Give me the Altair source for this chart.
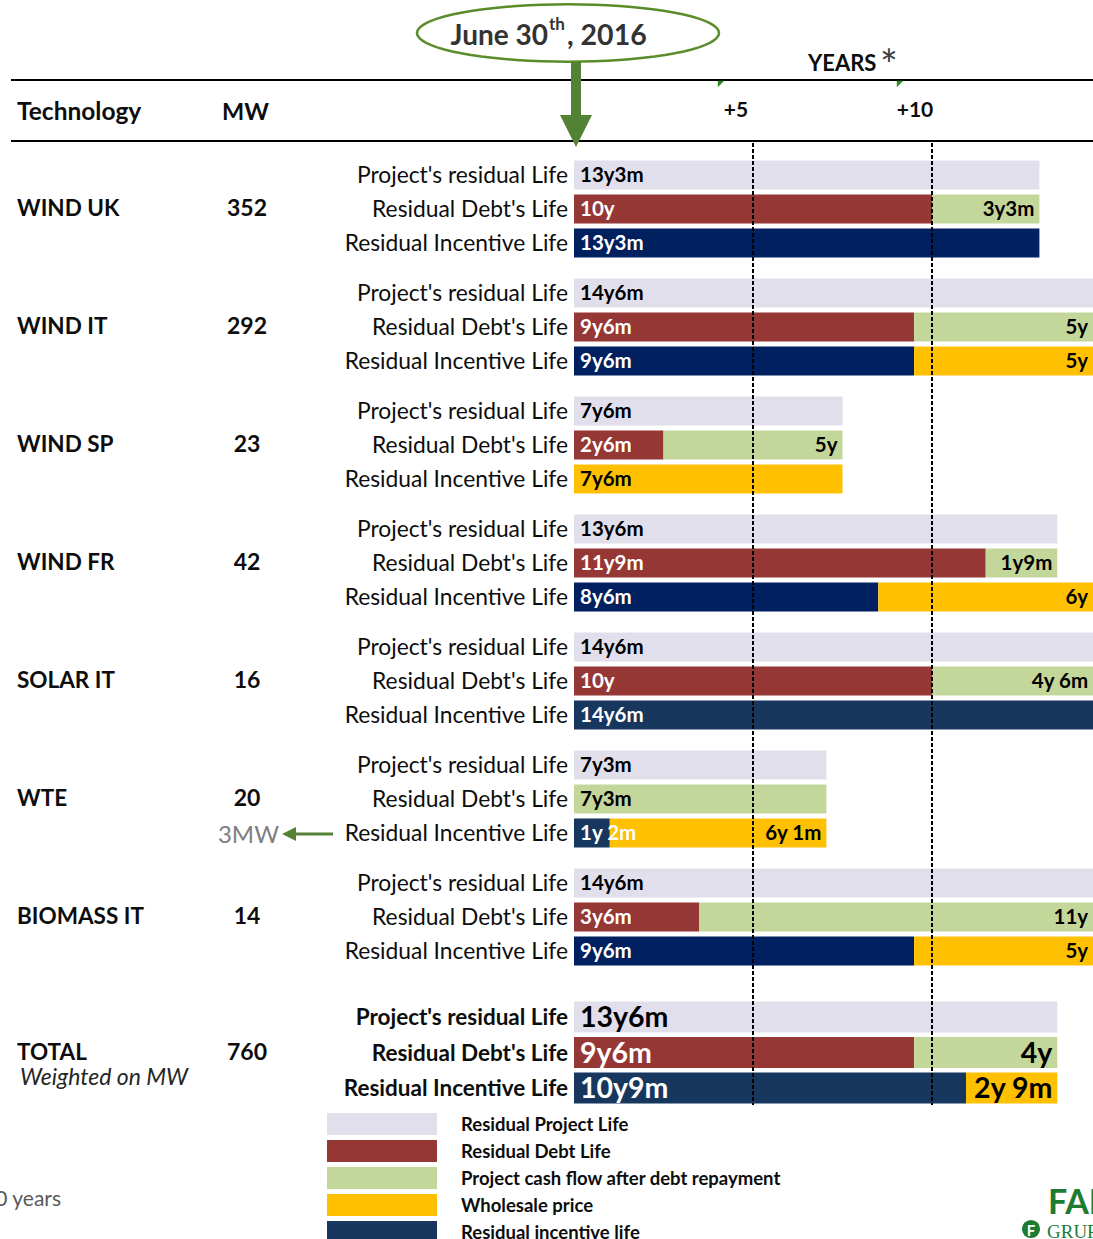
import math
import altair as alt
import pandas as pd

# ------------------------------------------------------------------ data
groups = ["WIND UK", "WIND IT", "WIND SP", "WIND FR", "SOLAR IT", "WTE", "BIOMASS IT", "TOTAL"]
mw = ["352", "292", "23", "42", "16", "20", "14", "760"]
row_names = ["Project's residual Life", "Residual Debt's Life", "Residual Incentive Life"]

# bar lengths in years, as drawn
project_years = [13.0, 14.5, 7.5, 13.5, 14.5, 7.05, 14.5, 13.5]
project_labels = ["13y3m", "14y6m", "7y6m", "13y6m", "14y6m", "7y3m", "14y6m", "13y6m"]

debt_years = [10.0, 9.5, 2.5, 11.5, 10.0, 0.0, 3.5, 9.5]
debt_labels = ["10y", "9y6m", "2y6m", "11y9m", "10y", "", "3y6m", "9y6m"]
cashflow_years = [3.0, 5.0, 5.0, 2.0, 4.5, 7.05, 11.0, 4.0]
cashflow_labels = ["3y3m", "5y", "5y", "1y9m", "4y 6m", "7y3m", "11y", "4y"]

incentive_years = [13.0, 9.5, 0.0, 8.5, 14.5, 1.0, 9.5, 10.95]
incentive_labels = ["13y3m", "9y6m", "", "8y6m", "14y6m", "1y 2m", "9y6m", "10y9m"]
wholesale_years = [0.0, 5.0, 7.5, 6.0, 0.0, 6.05, 5.0, 2.55]
wholesale_labels = ["", "5y", "7y6m", "6y", "", "6y 1m", "5y", "2y 9m"]

year_ticks = [5, 10]
year_tick_labels = ["+5", "+10"]

legend_labels = ["Residual Project Life", "Residual Debt Life",
                 "Project cash flow after debt repayment", "Wholesale price",
                 "Residual incentive life"]

# ------------------------------------------------------------------ style / layout
W, H = 1093, 1239
X0, PXY = 574, 35.8
FONT = "Lato"
C = {"project": "#E1DFEC", "debt": "#953735", "cash": "#C4D79B",
     "whole": "#FFC000", "navy": "#002060", "slate": "#17375E"}
SLATE_GROUPS = {"SOLAR IT", "WTE", "TOTAL"}
GREEN = "#548235"
TXT = "#0D0D0D"

xs = alt.Scale(domain=[-X0 / PXY, (W - X0) / PXY], nice=False, zero=False)
ys = alt.Scale(domain=[0, H], reverse=True, nice=False, zero=False)

segs, labs_left, labs_right, rowlabs, grp = [], [], [], [], []
for g, name in enumerate(groups):
    total = name == "TOTAL"
    if total:
        centers = [1017 + r * 35.5 for r in range(3)]
        half, fs = 15.5, 28.5
    else:
        centers = [175 + g * 118 + r * 34 for r in range(3)]
        half, fs = 14.5, 20.5
    inc_kind = "slate" if name in SLATE_GROUPS else "navy"
    for r, c in enumerate(centers):
        rowlabs.append(dict(y=c, text=row_names[r], bold=total))
    grp.append(dict(y=centers[1], name=name, mw=mw[g]))

    def seg(c, a, b, kind):
        segs.append(dict(y0=c - half, y1=c + half, x0=a, x1=b, kind=kind))

    # project row
    c = centers[0]
    seg(c, 0, project_years[g], "project")
    labs_left.append(dict(y=c, x=0, text=project_labels[g], color="black", size=fs))
    # debt row
    c = centers[1]
    d, cf = debt_years[g], cashflow_years[g]
    if d > 0:
        seg(c, 0, d, "debt")
        seg(c, d, d + cf, "cash")
        labs_left.append(dict(y=c, x=0, text=debt_labels[g], color="white", size=fs))
        labs_right.append(dict(y=c, x=d + cf, text=cashflow_labels[g], color="black", size=fs))
    else:
        seg(c, 0, cf, "cash")
        labs_left.append(dict(y=c, x=0, text=cashflow_labels[g], color="black", size=fs))
    # incentive row
    c = centers[2]
    i, w = incentive_years[g], wholesale_years[g]
    if i > 0:
        seg(c, 0, i, inc_kind)
        labs_left.append(dict(y=c, x=0, text=incentive_labels[g], color="white", size=fs))
        if w > 0:
            seg(c, i, i + w, "whole")
            labs_right.append(dict(y=c, x=i + w, text=wholesale_labels[g], color="black", size=fs))
    else:
        seg(c, 0, w, "whole")
        labs_left.append(dict(y=c, x=0, text=wholesale_labels[g], color="black", size=fs))

seg_df = pd.DataFrame(segs)
ll_df = pd.DataFrame(labs_left)
lr_df = pd.DataFrame(labs_right)
rl_df = pd.DataFrame(rowlabs)
grp_df = pd.DataFrame(grp)

color_scale = alt.Scale(domain=list(C.keys()), range=list(C.values()))

bars = alt.Chart(seg_df).mark_rect().encode(
    x=alt.X("x0:Q", scale=xs, axis=None), x2="x1:Q",
    y=alt.Y("y0:Q", scale=ys, axis=None), y2="y1:Q",
    color=alt.Color("kind:N", scale=color_scale, legend=None))

left_labels = alt.Chart(ll_df).mark_text(
    align="left", baseline="middle", dx=6, dy=1, font=FONT, fontWeight="bold").encode(
    x=alt.X("x:Q", scale=xs), y=alt.Y("y:Q", scale=ys), text="text:N",
    color=alt.Color("color:N", scale=None), size=alt.Size("size:Q", scale=None))

right_labels = alt.Chart(lr_df).mark_text(
    align="right", baseline="middle", dx=-5, dy=1, font=FONT, fontWeight="bold").encode(
    x=alt.X("x:Q", scale=xs), y=alt.Y("y:Q", scale=ys), text="text:N",
    color=alt.Color("color:N", scale=None), size=alt.Size("size:Q", scale=None))

row_norm = alt.Chart(rl_df[~rl_df.bold]).mark_text(
    align="right", baseline="middle", dx=-6, dy=1, font=FONT, fontSize=22.8, color=TXT).encode(
    x=alt.datum(0, scale=xs), y=alt.Y("y:Q", scale=ys), text="text:N")
row_bold = alt.Chart(rl_df[rl_df.bold]).mark_text(
    align="right", baseline="middle", dx=-6, dy=1, font=FONT, fontSize=22.5,
    fontWeight="bold", color=TXT).encode(
    x=alt.datum(0, scale=xs), y=alt.Y("y:Q", scale=ys), text="text:N")

grp_names = alt.Chart(grp_df).mark_text(
    align="left", baseline="middle", font=FONT, fontSize=22.5, fontWeight="bold", color=TXT).encode(
    x=alt.value(17), y=alt.Y("y:Q", scale=ys), text="name:N")
grp_mw = alt.Chart(grp_df).mark_text(
    align="center", baseline="middle", font=FONT, fontSize=23, fontWeight="bold", color=TXT).encode(
    x=alt.value(247), y=alt.Y("y:Q", scale=ys), text="mw:N")

one = pd.DataFrame({"a": [0]})


def txt(s, x, y, size, weight="normal", color=TXT, align="left", baseline="alphabetic",
        style="normal", font=FONT):
    return alt.Chart(one).mark_text(
        text=s, align=align, baseline=baseline, fontSize=size, fontWeight=weight,
        color=color, font=font, fontStyle=style).encode(x=alt.value(x), y=alt.value(y))


def hrule(x1, x2, y, color="black", width=2):
    return alt.Chart(one).mark_rule(color=color, strokeWidth=width).encode(
        x=alt.value(x1), x2=alt.value(x2), y=alt.value(y))


# dashed year lines
yr_df = pd.DataFrame({"year": year_ticks, "label": year_tick_labels})
dashes = alt.Chart(yr_df).mark_rule(color="black", strokeWidth=2, strokeDash=[4, 2]).encode(
    x=alt.X("year:Q", scale=xs), y=alt.value(143), y2=alt.value(1105))
tick_labels = alt.Chart(yr_df).mark_text(
    align="center", baseline="middle", dx=-17, font=FONT, fontSize=21,
    fontWeight="bold", color=TXT).encode(
    x=alt.X("year:Q", scale=xs), y=alt.value(111), text="label:N")
tick_marks = alt.Chart(yr_df).mark_point(
    shape="M-1,-1 L1,-1 L-1,1 Z", filled=True, color="#2E8B22", opacity=1, size=40,
    xOffset=-32).encode(
    x=alt.X("year:Q", scale=xs), y=alt.value(84))

# ellipse callout
pts = []
for k in range(73):
    t = 2 * math.pi * k / 72
    pts.append(f"{math.cos(t):.4f},{0.19 * math.sin(t):.4f}")
ellipse_path = "M" + " L".join(pts) + " Z"
ellipse = alt.Chart(one).mark_point(
    shape=ellipse_path, size=302 ** 2, filled=False, fill="white", fillOpacity=1,
    stroke="#5B8C2A", strokeWidth=2.5, opacity=1).encode(x=alt.value(568), y=alt.value(33))
shaft = alt.Chart(one).mark_rule(color=GREEN, strokeWidth=10).encode(
    x=alt.value(576), y=alt.value(62), y2=alt.value(120))
head = alt.Chart(one).mark_point(
    shape="M-1,-1 L1,-1 L0,1 Z", size=32 ** 2, filled=True, color=GREEN, opacity=1).encode(
    x=alt.value(576), y=alt.value(131))

# 3MW arrow
small_shaft = alt.Chart(one).mark_rule(color=GREEN, strokeWidth=3).encode(
    x=alt.value(292), x2=alt.value(333), y=alt.value(834))
small_head = alt.Chart(one).mark_point(
    shape="M-1,0 L1,-1 L1,1 Z", size=14 ** 2, filled=True, color=GREEN, opacity=1).encode(
    x=alt.value(289), y=alt.value(834))

# legend
leg_df = pd.DataFrame({
    "label": legend_labels,
    "kind": ["project", "debt", "cash", "whole", "slate"],
    "y0": [1113 + 27 * k for k in range(5)],
    "y1": [1135 + 27 * k for k in range(5)],
    "yc": [1125 + 27 * k for k in range(5)],
})
leg_sw = alt.Chart(leg_df).mark_rect().encode(
    x=alt.value(327), x2=alt.value(437),
    y=alt.Y("y0:Q", scale=ys), y2="y1:Q",
    color=alt.Color("kind:N", scale=color_scale, legend=None))
leg_tx = alt.Chart(leg_df).mark_text(
    align="left", baseline="middle", font=FONT, fontSize=18.5, fontWeight="bold", color=TXT).encode(
    x=alt.value(461), y=alt.Y("yc:Q", scale=ys), text="label:N")

logo_circle = alt.Chart(one).mark_point(
    shape="circle", size=330, filled=True, color="#1E7B32", opacity=1).encode(
    x=alt.value(1031), y=alt.value(1229))

layers = [
    hrule(11, W, 80), hrule(11, W, 141),
    txt("Technology", 17, 120, 24.5, "bold"),
    txt("MW", 222, 120, 23.5, "bold"),
    txt("YEARS", 808, 71, 22, "bold"),
    txt("*", 889, 80, 42, "normal", "#404040", align="center"),
    ellipse, shaft, head,
    txt("June 30", 548, 45, 28, "bold", "#333333", align="right"),
    txt("th", 549, 30, 17, "bold", "#333333"),
    txt(", 2016", 567, 45, 28.5, "bold", "#333333"),
    bars, dashes, tick_labels, tick_marks,
    left_labels, right_labels, row_norm, row_bold, grp_names, grp_mw,
    txt("Weighted on MW", 20, 1085, 23, "normal", "#262626", style="italic"),
    txt("3MW", 279, 843, 24, "normal", "#7F7F7F", align="right"),
    small_shaft, small_head,
    leg_sw, leg_tx,
    txt("10 years", 61, 1206, 21, "normal", "#595959", align="right"),
    txt("FALCK", 1048, 1214, 34, "bold", "#1E7B32"),
    logo_circle,
    txt("F", 1031, 1236, 15, "bold", "white", align="center"),
    txt("GRUPPO", 1047, 1238, 19, "normal", "#1E7B32", font="Liberation Serif"),
]

chart = alt.layer(*layers).properties(
    width=W, height=H, padding=0,
    autosize=alt.AutoSizeParams(type="none"),
    background="white",
).configure_view(stroke=None)

chart.save("out.html", embed_options={"renderer": "svg", "actions": False})
